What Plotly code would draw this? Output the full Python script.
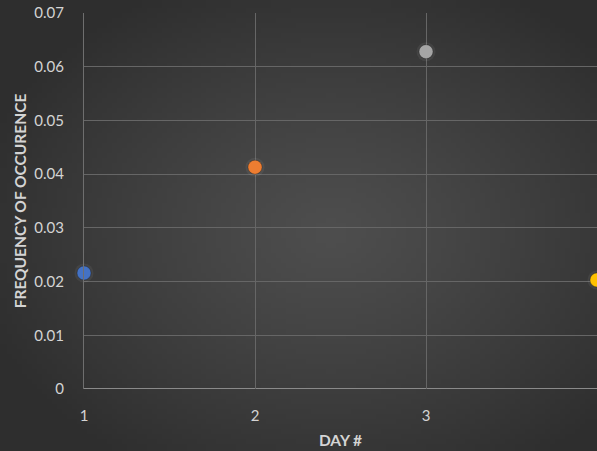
import base64
import struct
import zlib

import numpy as np
import plotly.graph_objects as go

# Frequency of occurrence by day
days = [1, 2, 3, 4]
frequency = [0.0216, 0.0413, 0.0628, 0.0203]
point_colors = ["#4472C4", "#ED7D31", "#A5A5A5", "#FFC000"]
y_ticks = [0, 0.01, 0.02, 0.03, 0.04, 0.05, 0.06, 0.07]
y_tick_labels = ["0", "0.01", "0.02", "0.03", "0.04", "0.05", "0.06", "0.07"]

W, H = 597, 451


def radial_gradient_png(w, h, cx, cy, inner, outer):
    """Build a small PNG with a radial grey gradient, returned as a data URI."""
    ys, xs = np.mgrid[0:h, 0:w]
    d = np.sqrt(((xs - cx) / (w * 0.62)) ** 2 + ((ys - cy) / (h * 0.62)) ** 2)
    t = np.clip(d, 0, 1) ** 1.2
    inner = np.array(inner, dtype=float)
    outer = np.array(outer, dtype=float)
    img = inner[None, None, :] * (1 - t[..., None]) + outer[None, None, :] * t[..., None]
    img = np.clip(img, 0, 255).astype(np.uint8)
    raw = b"".join(b"\x00" + img[r].tobytes() for r in range(h))

    def chunk(tag, data):
        c = struct.pack(">I", len(data)) + tag + data
        return c + struct.pack(">I", zlib.crc32(tag + data) & 0xFFFFFFFF)

    png = b"\x89PNG\r\n\x1a\n"
    png += chunk(b"IHDR", struct.pack(">IIBBBBB", w, h, 8, 2, 0, 0, 0))
    png += chunk(b"IDAT", zlib.compress(raw, 9))
    png += chunk(b"IEND", b"")
    return "data:image/png;base64," + base64.b64encode(png).decode()


bg = radial_gradient_png(120, 90, 66, 46, (78, 78, 78), (46, 46, 46))

left, top, bottom = 84, 13, 62
plot_w = W - left
plot_h = H - top - bottom

fig = go.Figure()

# faint halo around the points
fig.add_trace(go.Scatter(
    x=days, y=frequency, mode="markers", cliponaxis=False, hoverinfo="skip",
    marker=dict(size=19, color="rgba(255,255,255,0.06)", line=dict(width=0)),
    showlegend=False,
))
fig.add_trace(go.Scatter(
    x=days, y=frequency, mode="markers", cliponaxis=False,
    marker=dict(size=14, color=point_colors,
                line=dict(width=1, color="rgba(0,0,0,0.25)")),
    showlegend=False,
))

axis_font = dict(family="Lato, Open Sans, sans-serif", size=15, color="#d4d4d4")
title_font = dict(family="Lato, Open Sans, sans-serif", size=15.5, color="#d4d4d4")

fig.update_layout(
    width=W, height=H,
    margin=dict(l=left, r=0, t=top, b=bottom, pad=0),
    paper_bgcolor="#3a3a3a",
    plot_bgcolor="rgba(0,0,0,0)",
    images=[dict(source=bg, xref="paper", yref="paper", x=-left / plot_w, y=1 + top / plot_h,
                 sizex=W / plot_w, sizey=H / plot_h, xanchor="left", yanchor="top",
                 sizing="stretch", layer="below")],
    xaxis=dict(
        range=[1, 4], tickvals=days, ticktext=[str(d) for d in days],
        showgrid=True, gridcolor="#666666", gridwidth=1,
        zeroline=False, showline=False, ticks="", ticklabelstandoff=16,
        tickfont=axis_font,
        title=dict(text="<b>DAY #</b>", font=title_font, standoff=12),
    ),
    yaxis=dict(
        range=[0, 0.07], tickvals=y_ticks, ticktext=y_tick_labels,
        showgrid=True, gridcolor="#666666", gridwidth=1,
        zeroline=False, showline=True, linecolor="#6e6e6e", linewidth=1,
        ticks="", ticklabelstandoff=16,
        tickfont=axis_font,
        title=dict(text="<b>FREQUENCY OF OCCURENCE</b>", font=title_font, standoff=3),
    ),
)

# baseline along y = 0
fig.add_shape(type="line", xref="paper", yref="y", x0=0, x1=1, y0=0, y1=0,
              line=dict(color="#8a8a8a", width=2), layer="below")

fig.write_html("out.html")
